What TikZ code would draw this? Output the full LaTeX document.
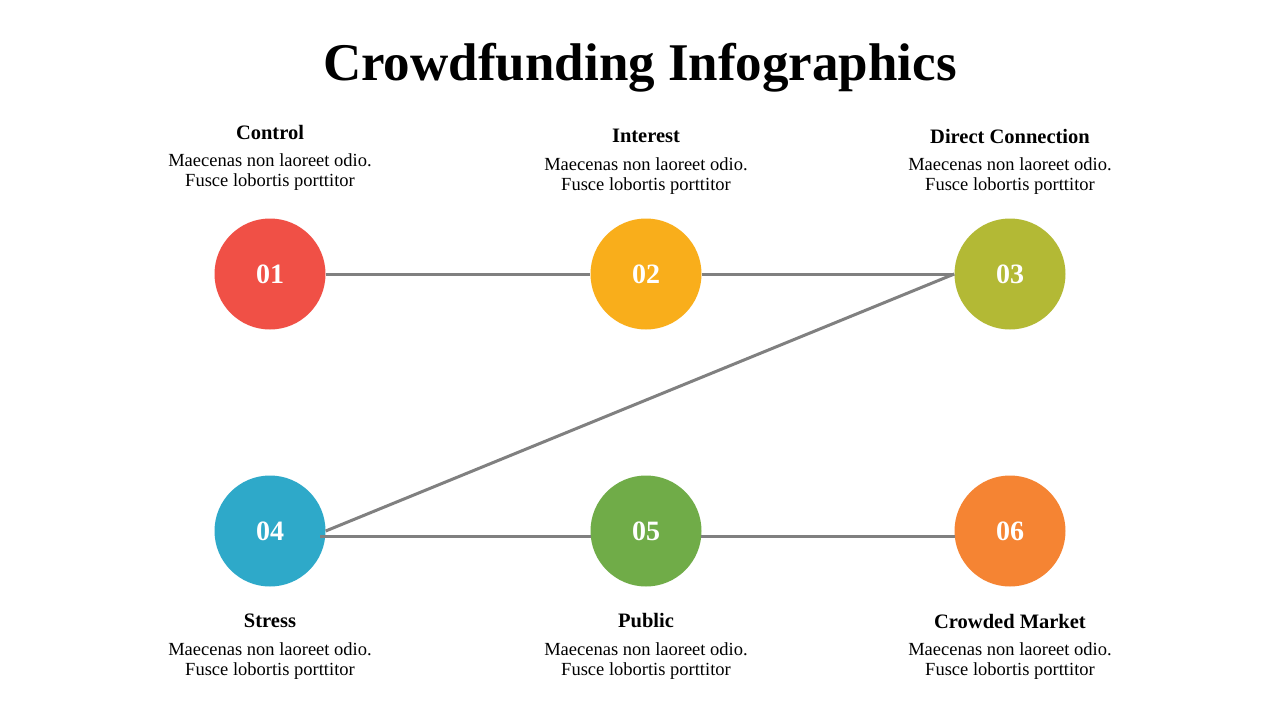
\documentclass[tikz,border=0pt]{standalone}
\usepackage{fontspec}
\setmainfont{Liberation Serif}
\definecolor{cA}{HTML}{F05046}
\definecolor{cB}{HTML}{F9AE1B}
\definecolor{cC}{HTML}{B3B935}
\definecolor{cD}{HTML}{2EA9C9}
\definecolor{cE}{HTML}{70AC48}
\definecolor{cF}{HTML}{F58433}
\definecolor{lineg}{HTML}{808080}
\tikzset{
  dot/.style={circle, fill=#1, draw=none, minimum size=111pt, inner sep=0pt,
    text=white, font=\fontsize{28}{28}\selectfont\bfseries},
  head/.style={font=\fontsize{20.5}{22}\selectfont\bfseries, inner sep=0pt},
  body/.style={font=\fontsize{18.5}{20}\selectfont, align=center, inner sep=0pt},
  link/.style={draw=lineg, line width=3pt},
}
\begin{document}
\begin{tikzpicture}[x=1pt,y=-1pt]
\useasboundingbox[fill=white] (0,0) rectangle (1280,720);
\node[font=\fontsize{53}{58}\selectfont\bfseries, inner sep=0pt] (title) at (640,68) {Crowdfunding Infographics};

\node[dot=cA] (c1) at (270,274) {01};
\node[dot=cB] (c2) at (646,274) {02};
\node[dot=cC] (c3) at (1010,274) {03};
\node[dot=cD] (c4) at (270,531) {04};
\node[dot=cE] (c5) at (646,531) {05};
\node[dot=cF] (c6) at (1010,531) {06};

\draw[link] (c1.east) -- (c2.west);
\draw[link] (c2.east) -- (c3.west);
\draw[link] (c3.west) -- (c4.east);
\coordinate (b4) at (320,536);
\coordinate (b5) at (591,536);
\coordinate (b5r) at (701,536);
\coordinate (b6) at (955,536);
\draw[link] (b4) -- (b5);
\draw[link] (b5r) -- (b6);

\node[head] (h1) at (270,132) {Control};
\node[body] (t1) at (270,172) {Maecenas non laoreet odio.\\Fusce lobortis porttitor};
\node[head] (h2) at (646,136) {Interest};
\node[body] (t2) at (646,176) {Maecenas non laoreet odio.\\Fusce lobortis porttitor};
\node[head] (h3) at (1010,136) {Direct Connection};
\node[body] (t3) at (1010,176) {Maecenas non laoreet odio.\\Fusce lobortis porttitor};
\node[head] (h4) at (270,621) {Stress};
\node[body] (t4) at (270,661) {Maecenas non laoreet odio.\\Fusce lobortis porttitor};
\node[head] (h5) at (646,621) {Public};
\node[body] (t5) at (646,661) {Maecenas non laoreet odio.\\Fusce lobortis porttitor};
\node[head] (h6) at (1010,621) {Crowded Market};
\node[body] (t6) at (1010,661) {Maecenas non laoreet odio.\\Fusce lobortis porttitor};
\end{tikzpicture}
\end{document}
